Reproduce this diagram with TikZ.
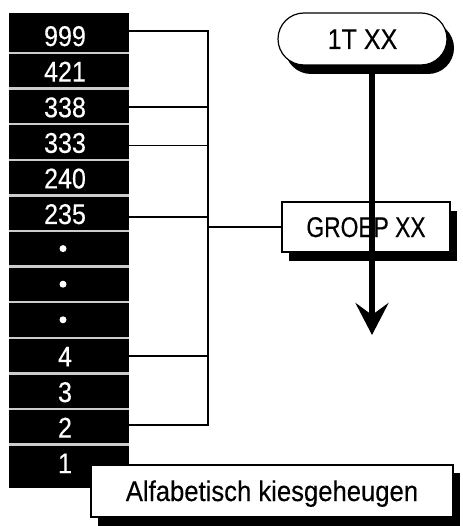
\documentclass[tikz,border=0pt]{standalone}
\usepackage{fontspec}
\setmainfont{Liberation Sans}
\newfontfamily\labfont[FakeStretch=0.88,FakeBold=0.3]{Liberation Sans}
\newfontfamily\capfont[FakeStretch=0.8,FakeBold=0.3]{Liberation Sans}
\newfontfamily\widefont[FakeStretch=0.9,FakeBold=0.3]{Liberation Sans}
\usetikzlibrary{arrows.meta,shadows,calc}
\begin{document}
\begin{tikzpicture}[x=1pt,y=-1pt,
  txt/.style={font=\labfont\fontsize{28.5}{28.5}\selectfont, inner sep=0pt, text height=20pt, text depth=0pt},
  num/.style={txt, text=white},
  sep/.style={draw=black!20, line width=2.5pt},
  wire/.style={draw=black, line width=1.4pt},
  box/.style={txt, draw=black, line width=1.2pt, fill=white,
    drop shadow={shadow xshift=7pt, shadow yshift=-9pt, opacity=1, fill=black}},
  flow/.style={draw=black, line width=6pt, -{Stealth[length=32pt,width=33pt,inset=12pt]}}
]
\useasboundingbox (0,0) rectangle (462,526);

% memory column
\node[fill=black, minimum width=120, minimum height=475, inner sep=0pt, anchor=north west] (col) at (9,13) {};
\foreach \i in {0,...,11} \draw[sep] (9,{53+35.6*\i}) -- (129,{53+35.6*\i});
\foreach \t [count=\i from 0] in {999,421,338,333,240,235,{},{},{},4,3,2,1}
  \node[num] (r\i) at (65,{36+35.6*\i}) {\t};
\foreach \i in {6,7,8} \fill[white] (63,{35+35.6*\i}) circle (3.5);

% boxes
\node[box, rounded corners=26pt, minimum width=169, minimum height=52] (t1) at (362.5,39) {1T XX};
\node[box, font=\capfont\fontsize{28.5}{28.5}\selectfont, minimum width=168, minimum height=50] (groep) at (366,227) {GROEP XX};
\node[box, font=\widefont\fontsize{28.5}{28.5}\selectfont, minimum width=362, minimum height=52, drop shadow={shadow xshift=7pt, shadow yshift=-8pt, opacity=1, fill=black}] (alfa) at (272,491) {Alfabetisch kiesgeheugen};

% connectors
\coordinate (bus) at (208,0);
\coordinate (e0) at ($(r0 -| col.east)+(0,-5)$);
\coordinate (e2) at ($(r2 -| col.east)+(0,0)$);
\coordinate (e3) at ($(r3 -| col.east)+(0,3)$);
\coordinate (e5) at ($(r5 -| col.east)+(0,3)$);
\coordinate (e9) at ($(r9 -| col.east)+(0,-0.5)$);
\coordinate (e11) at ($(r11 -| col.east)+(0,-2.5)$);
\draw[wire] (e0) -- (e0 -| bus) -- (e11 -| bus) -- (e11);
\foreach \k in {2,3,5,9} \draw[wire] (e\k) -- (e\k -| bus);
\draw[wire] (groep.west) -- (groep.west -| bus);

% flow arrow
\coordinate (tip) at (372,335);
\draw[flow] (t1.south -| tip) -- (tip);
\end{tikzpicture}
\end{document}
